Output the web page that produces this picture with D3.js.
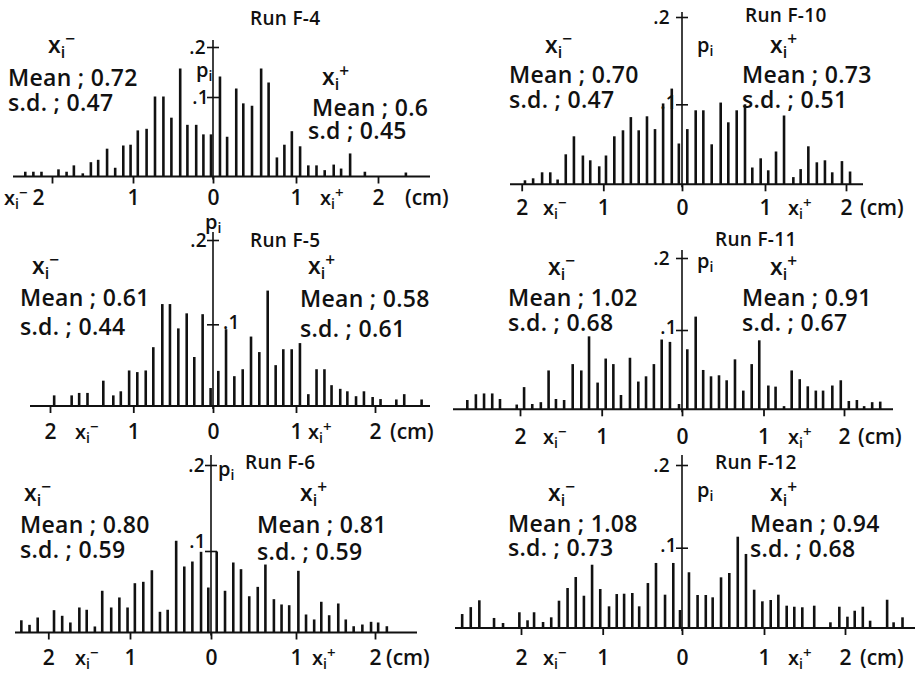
<!DOCTYPE html>
<html><head><meta charset="utf-8">
<script src="https://cdn.jsdelivr.net/npm/d3@7"></script>
<style>
body{margin:0;background:#fff}
svg text{font-family:"Open Sans","DejaVu Sans",sans-serif;font-weight:600;fill:#111}
</style></head><body>
<svg id="c" width="916" height="677"></svg>
<script>
// ---------- data ----------
const runs = ["Run F-4","Run F-10","Run F-5","Run F-11","Run F-6","Run F-12"];
const meanMinus = ["0.72","0.70","0.61","1.02","0.80","1.08"];
const sdMinus   = ["0.47","0.47","0.44","0.68","0.59","0.73"];
const meanPlus  = ["0.6","0.73","0.58","0.91","0.81","0.94"];
const sdPlus    = ["0.45","0.51","0.61","0.67","0.59","0.68"];
const sdPlusLabel = ["s.d","s.d.","s.d.","s.d.","s.d.","s.d."];
const xTickValues = [-2,-1,0,1,2];
const xTickLabels = ["2","1","0","1","2"];
const yTickValues = [0.1,0.2];
const yTickLabels = [".1",".2"];

const f4X = [-2.33,-2.23,-2.13,-1.92,-1.82,-1.73,-1.62,-1.52,-1.43,-1.32,-1.22,-1.12,-1.03,-0.94,-0.83,-0.725,-0.62,-0.52,-0.41,-0.32,-0.21,-0.12,-0.025,0.084,0.17,0.28,0.365,0.47,0.58,0.67,0.77,0.86,0.95,1.05,1.15,1.25,1.35,1.46,1.55,1.66,1.84,2.34];
const f4P = [.006,.006,.006,.009,.006,.014,.004,.018,.021,.035,.011,.039,.040,.058,.060,.101,.101,.074,.157,.065,.065,.053,.053,.141,.050,.117,.092,.089,.157,.129,.024,.040,.057,.038,.014,.014,.008,.015,.010,.029,.006,.005];

const f10X = [-1.96,-1.86,-1.75,-1.65,-1.56,-1.46,-1.36,-1.25,-1.16,-1.05,-0.966,-0.86,-0.75,-0.65,-0.55,-0.445,-0.343,-0.24,-0.13,-0.04,0.064,0.165,0.257,0.358,0.466,0.558,0.659,0.759,0.847,0.948,1.04,1.136,1.235,1.35,1.44,1.535,1.64,1.74,1.83,1.95,2.05];
const f10P = [.005,.0075,.015,.015,.006,.0375,.060,.036,.030,.0225,.036,.060,.0675,.084,.0675,.085,.069,.101,.118,.051,.069,.0925,.0925,.050,.102,.0775,.0925,.100,.021,.0325,.0175,.041,.086,.009,.019,.0475,.0275,.030,.015,.029,.016];

const f5X = [-1.95,-1.74,-1.65,-1.55,-1.36,-1.24,-1.15,-1.05,-0.95,-0.844,-0.749,-0.636,-0.54,-0.435,-0.33,-0.235,-0.13,-0.03,0.064,0.157,0.257,0.358,0.458,0.558,0.659,0.755,0.847,0.948,1.05,1.156,1.26,1.36,1.45,1.56,1.65,1.76,1.86,1.97,2.07,2.27,2.37,2.59];
const f5P = [.013,.013,.016,.016,.031,.013,.018,.0435,.0415,.0435,.072,.124,.124,.095,.113,.060,.112,.022,.043,.094,.0365,.045,.085,.066,.140,.050,.0695,.0695,.077,.0145,.045,.045,.0255,.021,.018,.012,.018,.011,.0085,.008,.0145,.008];

const f11X = [-2.645,-2.54,-2.44,-2.34,-2.245,-2.04,-1.95,-1.85,-1.745,-1.65,-1.56,-1.46,-1.355,-1.25,-1.155,-1.05,-0.95,-0.855,-0.76,-0.648,-0.544,-0.448,-0.35,-0.253,-0.15,-0.037,0.065,0.168,0.26,0.356,0.454,0.548,0.65,0.752,0.855,0.948,1.06,1.15,1.255,1.35,1.45,1.55,1.65,1.74,1.855,1.96,2.06,2.16,2.25,2.35,2.45];
const f11P = [.0117,.019,.020,.020,.013,.006,.028,.0067,.009,.049,.013,.0117,.057,.049,.092,.0337,.064,.057,.018,.065,.035,.0416,.057,.088,.085,.0067,.0757,.1186,.0496,.0416,.0429,.0366,.063,.0236,.057,.087,.030,.0286,.004,.049,.038,.029,.0236,.0236,.030,.0366,.0105,.0117,.004,.009,.0097];

const f6X = [-2.33,-2.23,-2.13,-1.93,-1.83,-1.73,-1.62,-1.53,-1.43,-1.34,-1.23,-1.13,-1.03,-0.94,-0.836,-0.73,-0.63,-0.535,-0.43,-0.33,-0.23,-0.123,-0.033,0.067,0.165,0.262,0.353,0.45,0.55,0.64,0.74,0.83,0.92,1.03,1.127,1.23,1.32,1.42,1.535,1.63,1.73,1.84,1.95,2.04,2.15];
const f6P = [.015,.0094,.0184,.0274,.0205,.0123,.0307,.0279,.0074,.0512,.0307,.043,.0307,.0605,.0622,.0764,.0254,.0279,.1119,.081,.0871,.099,.0552,.0994,.0512,.0859,.0777,.0445,.056,.0834,.0409,.0344,.0335,.0757,.0221,.016,.0377,.0212,.0356,.016,.0077,.0098,.0131,.0123,.0077];

const f12X = [-2.72,-2.615,-2.51,-2.33,-2.22,-2.02,-1.92,-1.84,-1.73,-1.63,-1.535,-1.43,-1.33,-1.23,-1.13,-1.03,-0.92,-0.823,-0.73,-0.627,-0.54,-0.43,-0.328,-0.214,-0.11,-0.025,0.085,0.19,0.29,0.374,0.476,0.577,0.68,0.78,0.88,0.98,1.083,1.177,1.28,1.374,1.473,1.62,1.82,1.93,2.03,2.12,2.22,2.31,2.52,2.6,2.71];
const f12P = [.0174,.026,.0345,.0125,.0062,.0196,.0096,.0196,.0075,.0133,.034,.0498,.0635,.0402,.0788,.0486,.027,.0423,.0427,.0436,.027,.056,.081,.0415,.081,.0224,.0694,.0411,.0411,.0382,.0631,.0685,.1133,.0922,.0477,.0332,.0349,.0415,.0278,.0265,.0258,.0278,.0071,.0265,.0141,.0215,.0265,.0091,.0352,.0071,.0133];

const seriesX = [f4X,f10X,f5X,f11X,f6X,f12X];
const seriesP = [f4P,f10P,f5P,f11P,f6P,f12P];

// ---------- layout ----------
const L = [
 {xr:[52,133,213,296,378], yr:[176.5,97,47], top:40, bl:[13,430], lab:205,
  t:[250,25], xm:[48,53], mm:[8,86], sm:[8,111], xp:[322,85], mp:[312,116], sp:[308,139],
  y2:[206,54,"end"], p:[196,77], y1:[209,104,"end"], axXm:4, axXp:320, cm:405, shift2:-14},
 {xr:[521.7,603.3,682,765,846], yr:[184.3,104.3,17], top:12, bl:[510,863], lab:215,
  t:[745,22], xm:[545,53], mm:[509,83], sm:[509,108], xp:[770,53], mp:[742,83], sp:[742,108],
  y2:[670,24,"end"], p:[697,52], y1:[677,109,"end"], axXm:543, axXp:788, cm:860, shift2:0},
 {xr:[50,133.3,213,296,375], yr:[406,324.3,240], top:232, bl:[30,430], lab:439,
  t:[250,247], xm:[32,274], mm:[20,306], sm:[20,335], xp:[308,274], mp:[300,307], sp:[300,337],
  y2:[207,247,"end"], p:[205,229], y1:[223,329,"start"], axXm:75, axXp:308, cm:390, shift2:0},
 {xr:[520,601.7,682,763.5,844], yr:[409.3,330,258], top:250, bl:[453,893], lab:444,
  t:[715,246], xm:[548,275], mm:[508,306], sm:[508,331], xp:[770,275], mp:[742,306], sp:[742,331],
  y2:[670,265,"end"], p:[697,268], y1:[677,334,"end"], axXm:543, axXp:788, cm:858, shift2:0},
 {xr:[48.3,130,211,296,375], yr:[632.5,551,465], top:455, bl:[15,417], lab:665,
  t:[245,469], xm:[24,501], mm:[20,533], sm:[20,558], xp:[300,501], mp:[257,533], sp:[257,560],
  y2:[205,472,"end"], p:[218,476], y1:[206,548,"end"], axXm:75, axXp:312, cm:386, shift2:0},
 {xr:[521,602.7,682,764,845], yr:[628,547.7,465], top:455, bl:[455,915], lab:665,
  t:[715,469], xm:[548,501], mm:[508,532], sm:[508,556], xp:[770,501], mp:[750,532], sp:[750,557],
  y2:[670,472,"end"], p:[697,497], y1:[677,552,"end"], axXm:543, axXp:788, cm:860, shift2:0}
];

const svg = d3.select("#c");
const FS = 23;

function xiLabel(g, x, y, sign, size){
  const t = g.append("text").attr("x",x).attr("y",y).style("font-size",size+"px");
  t.append("tspan").text("x");
  t.append("tspan").attr("dy", size*0.2).style("font-size",(size*0.7)+"px").text("i");
  t.append("tspan").attr("dy", -size*0.55).style("font-size",(size*0.75)+"px").text(sign);
}
function piLabel(g, x, y, size){
  const t = g.append("text").attr("x",x).attr("y",y).style("font-size",size+"px");
  t.append("tspan").text("p");
  t.append("tspan").attr("dy", size*0.2).style("font-size",(size*0.7)+"px").text("i");
}
function txt(g, pos, s, size, anchor){
  g.append("text").attr("x",pos[0]).attr("y",pos[1]).attr("text-anchor",anchor||"start")
   .style("font-size",size+"px").style("letter-spacing","0.3px").text(s);
}

L.forEach((c,i)=>{
  const g = svg.append("g");
  const x = d3.scaleLinear().domain(xTickValues).range(c.xr);
  const y = d3.scaleLinear().domain([0,0.1,0.2]).range(c.yr);
  const base = y(0);

  g.append("line").attr("x1",c.bl[0]).attr("x2",c.bl[1]).attr("y1",base).attr("y2",base)
   .attr("stroke","#111").attr("stroke-width",2);

  const xa = g.append("g").attr("transform",`translate(0,${base})`)
    .call(d3.axisBottom(x).tickValues(xTickValues).tickSize(7).tickFormat((d,k)=>xTickLabels[k]));
  xa.select(".domain").remove();
  xa.selectAll(".tick line").attr("stroke","#111").attr("stroke-width",1.8);
  xa.selectAll(".tick text").attr("y", c.lab-base).attr("dy",0)
    .style("font-size","21px").style("font-family",'"Open Sans","DejaVu Sans",sans-serif')
    .style("font-weight",600).attr("fill","#111")
    .attr("dx",(d)=> d===-2 ? c.shift2 : 0);

  g.append("line").attr("x1",x(0)).attr("x2",x(0)).attr("y1",c.top).attr("y2",base+3)
   .attr("stroke","#111").attr("stroke-width",1.6);
  const ya = g.append("g").attr("transform",`translate(${x(0)},0)`)
    .call(d3.axisLeft(y).tickValues(yTickValues).tickSize(6).tickFormat(""));
  ya.select(".domain").remove();
  ya.selectAll(".tick line").attr("x1",6).attr("stroke","#111").attr("stroke-width",1.6);

  g.selectAll("line.bar").data(seriesX[i].map((v,k)=>({x:v,p:seriesP[i][k]})))
   .join("line").attr("class","bar")
   .attr("x1",d=>x(d.x)).attr("x2",d=>x(d.x))
   .attr("y1",base).attr("y2",d=>y(d.p))
   .attr("stroke","#111").attr("stroke-width",2.6);

  txt(g, c.t, runs[i], 19);
  xiLabel(g, c.xm[0], c.xm[1], "\u2212", FS);
  txt(g, c.mm, "Mean ; "+meanMinus[i], FS);
  txt(g, c.sm, "s.d. ; "+sdMinus[i], FS);
  xiLabel(g, c.xp[0], c.xp[1], "+", FS);
  txt(g, c.mp, "Mean ; "+meanPlus[i], FS);
  txt(g, c.sp, sdPlusLabel[i]+" ; "+sdPlus[i], FS);
  txt(g, [c.y2[0],c.y2[1]], yTickLabels[1], 19, c.y2[2]);
  txt(g, [c.y1[0],c.y1[1]], yTickLabels[0], 19, c.y1[2]);
  piLabel(g, c.p[0], c.p[1], 20);
  xiLabel(g, c.axXm, c.lab, "\u2212", 20);
  xiLabel(g, c.axXp, c.lab, "+", 20);
  g.append("text").attr("x",c.cm).attr("y",c.lab).style("font-size","21px").text("(cm)");
});
</script>
</body></html>
